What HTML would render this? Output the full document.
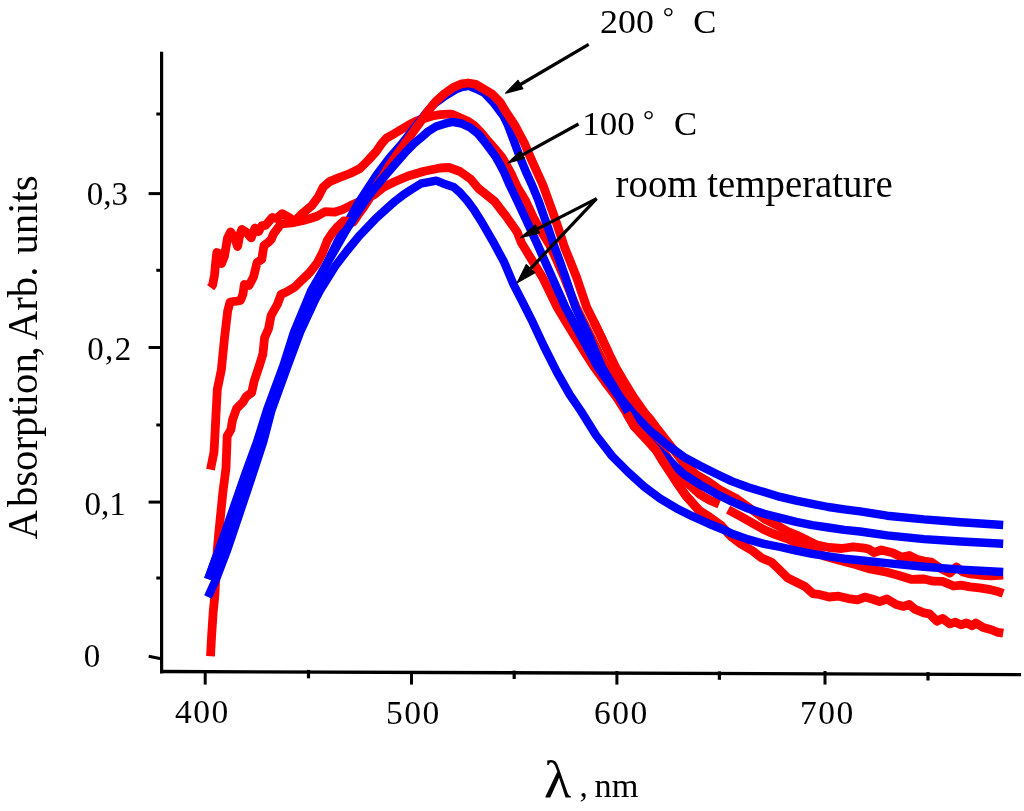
<!DOCTYPE html>
<html lang="en">
<head>
<meta charset="utf-8">
<title>Absorption spectra</title>
<style>
html,body{margin:0;padding:0;background:#fff;}
body{width:1024px;height:811px;overflow:hidden;}
svg{display:block;}
text{font-family:"Liberation Serif","DejaVu Serif",serif;fill:#000;}
</style>
</head>
<body>
<svg width="1024" height="811" viewBox="0 0 1024 811">
<rect x="0" y="0" width="1024" height="811" fill="#ffffff"/>
<g id="curves">
<polyline points="210.6,287.6 212.7,284.8 214.5,275.0 215.7,262.4 216.8,252.5 218.9,253.5 221.5,263.5 224.5,256.2 227.5,238.0 230.6,232.0 234.6,238.0 237.6,246.5 239.6,236.0 241.8,229.5 246.9,232.8 251.2,237.8 255.0,228.0 258.7,231.5 261.8,225.7 265.5,225.3 272.3,217.5 276.6,218.5 282.2,213.7 289.4,217.7 294.2,221.7 302.2,213.7 311.8,205.7 318.3,196.9 323.1,187.3 329.5,181.6 339.1,177.6 350.0,173.5 360.0,168.5 368.0,160.5 376.0,151.7 381.6,143.7 386.5,138.1 393.7,134.0 401.7,129.2 409.7,124.4 416.1,121.2 424.1,118.5 432.1,116.0 440.0,114.7 448.0,114.2 452.1,114.2 460.1,117.7 468.5,121.5 474.0,125.3 481.0,132.5 488.0,141.0 495.0,149.0 501.8,157.1 506.5,165.0 510.9,173.1 514.7,181.5 517.3,187.0 525.7,201.0 533.2,217.1 541.0,231.0 549.7,245.0 557.0,261.0 564.1,277.1 570.2,292.5 576.3,307.5 583.5,322.0 591.0,337.1 598.5,352.5 606.5,367.5 615.0,382.0 624.0,397.1 636.0,413.0 648.0,429.0 660.0,446.0 671.0,463.0 682.6,478.6 700.0,494.5 709.6,500.1 719.2,504.1" fill="none" stroke="#ff0000" stroke-width="8.8" stroke-linejoin="round" stroke-linecap="butt" />
<polyline points="728.1,509.7 740.1,516.2 752.9,523.4 764.1,529.8 775.4,534.6 786.6,538.6 797.0,543.2 810.0,549.5 824.2,556.0 840.2,560.6 856.3,564.7 868.5,568.6 887.0,572.3 898.1,575.2 911.0,579.3 924.0,579.0 933.2,581.2 942.5,581.4 953.6,586.0 961.0,585.1 970.2,586.9 979.5,587.9 990.6,589.7 998.0,591.6 1003.2,593.4" fill="none" stroke="#ff0000" stroke-width="8.8" stroke-linejoin="round" stroke-linecap="butt" />
<polyline points="210.5,469.7 214.0,452.0 214.9,436.0 215.7,420.0 217.3,389.4 221.3,370.2 224.5,338.1 227.7,310.8 230.1,302.0 236.5,301.2 240.5,300.5 243.0,294.0 244.3,284.5 249.0,285.5 253.5,277.0 255.6,268.7 257.1,262.4 261.8,259.3 262.9,252.0 264.0,245.6 268.1,242.5 271.3,239.4 273.4,234.1 276.5,229.9 280.6,224.5 286.2,223.3 294.2,222.5 302.2,220.8 310.2,218.5 317.0,216.3 325.0,211.7 334.3,212.2 342.4,209.6 350.6,205.6 362.0,200.5 373.7,195.0 383.4,187.2 394.0,182.0 408.1,176.0 424.1,171.2 440.0,168.0 449.0,167.5 460.0,171.5 470.5,179.0 478.5,188.5 494.5,201.2 505.7,215.7 517.0,231.7 521.5,243.0 525.8,250.0 534.0,263.5 542.4,277.1 550.0,292.5 557.3,307.5 566.0,322.0 575.3,337.1 584.8,352.5 594.5,367.5 605.0,382.0 616.5,397.1 626.5,413.0 634.0,426.0 640.0,432.5 648.0,441.0 656.0,450.0 662.4,460.5 669.7,471.5 676.1,481.5 685.8,495.5 698.6,510.0 709.6,517.0 720.8,525.0 730.5,536.0 740.8,544.0 752.1,550.5 761.7,558.0 771.3,562.0 779.3,569.7 787.3,577.7 795.4,581.7 805.0,586.5 813.0,593.7 819.4,594.5 829.0,597.0 838.6,596.2 848.3,598.6 857.4,599.9 864.8,597.1 872.2,599.0 879.6,601.7 887.0,599.0 896.2,604.5 903.6,606.4 909.2,604.5 914.7,609.1 924.0,612.8 929.5,613.8 936.9,621.2 942.5,618.4 949.9,623.9 955.4,622.1 961.0,624.9 966.5,623.0 972.1,625.8 975.8,623.0 983.2,627.6 990.6,629.5 998.0,632.3 1003.2,633.2" fill="none" stroke="#ff0000" stroke-width="8.8" stroke-linejoin="round" stroke-linecap="butt" />
<polyline points="594.0,322.0 601.3,337.1 608.5,352.5 615.8,367.5 624.3,382.0 633.5,397.1 645.5,414.0 650.8,420.0 656.0,427.2 662.4,435.2 667.3,441.6 673.7,449.7 684.9,464.5 696.1,474.5 708.1,481.5 720.8,490.5 737.0,499.0 753.0,510.5 764.5,519.0 776.1,524.8 787.3,531.2 797.0,535.2 806.6,540.0 816.2,544.7 829.0,547.5 841.8,548.5 853.1,546.8 864.3,548.1 868.5,549.0 874.0,552.7 881.4,550.0 892.5,552.7 901.8,557.3 909.2,555.5 916.6,559.2 924.0,561.0 931.4,562.0 940.0,568.0 949.9,573.0 956.4,567.0 963.0,572.0 970.2,574.0 979.5,575.0 990.6,575.8 1003.2,575.0" fill="none" stroke="#ff0000" stroke-width="8.8" stroke-linejoin="round" stroke-linecap="butt" />
<polyline points="208.1,579.1 210.7,572.1 216.6,556.0 222.6,540.0 248.0,475.0 259.5,442.0 269.0,410.0 312.5,290.0 325.5,266.0 334.5,248.0 343.0,230.7 358.0,203.6 369.4,186.1 376.6,175.0 389.4,158.1 400.6,145.3 410.3,133.2 419.0,122.0 426.5,112.5 434.5,103.5 443.5,97.0 455.3,89.6 461.7,87.1 468.9,85.9 476.1,88.8 484.1,92.7 493.0,102.0 503.3,115.6 507.9,125.0 513.9,141.0 519.9,157.1 526.5,173.1 532.0,185.0 538.6,201.0 544.2,217.1 549.2,231.0 554.0,245.5 559.7,261.0 565.4,277.1 570.5,292.5 575.5,307.5 582.3,322.0 589.5,337.1 595.8,352.5 602.1,367.5 610.8,382.0 620.0,397.1 627.0,406.0 634.7,415.0 649.0,430.0 656.0,435.5 666.6,444.5 684.2,457.2 700.0,465.7 716.0,473.7 732.1,481.4 748.1,487.3 764.1,492.1 780.2,496.9 796.2,500.6 812.2,503.8 828.3,507.0 844.3,509.3 860.0,511.3 887.0,515.7 924.0,519.4 961.0,522.2 1003.2,525.0" fill="none" stroke="#0000ff" stroke-width="8.4" stroke-linejoin="round" stroke-linecap="butt" />
<polyline points="210.5,656.2 211.6,636.0 213.2,612.0 214.8,596.0 217.3,550.0 218.9,532.0 220.5,516.0 222.9,492.0 226.0,468.0 227.2,436.0 230.9,429.6 232.5,420.0 236.5,408.6 242.9,402.2 246.1,396.6 251.7,392.6 254.1,381.4 258.9,367.0 262.9,354.1 264.5,338.1 268.6,328.5 271.0,315.7 277.4,304.4 281.0,294.5 288.1,291.1 294.9,287.0 301.7,280.2 309.5,272.8 317.0,263.3 322.7,252.4 327.5,240.2 332.0,233.4 337.0,227.3 343.8,221.0 349.0,221.5 353.3,222.0 358.0,215.0 363.4,207.6 369.0,199.0 377.0,185.0 383.8,175.0 388.9,166.1 400.1,150.1 411.7,134.0 420.0,122.5 428.0,111.0 436.0,101.2 444.0,94.0 453.7,87.2 461.7,83.8 468.1,83.0 476.1,84.4 484.1,89.2 492.1,94.0 500.0,102.0 506.0,112.0 515.0,125.5 524.3,143.0 530.6,157.8 537.8,173.8 542.9,185.0 548.7,201.0 554.5,217.1 559.6,232.0 564.6,247.5 570.5,262.0 576.5,277.1 581.7,292.5 586.8,307.5 594.0,322.0 601.3,337.1 608.5,352.5" fill="none" stroke="#ff0000" stroke-width="8.8" stroke-linejoin="round" stroke-linecap="butt" />
<polyline points="208.1,579.1 210.7,572.1 216.6,556.0 222.4,540.0 245.0,475.0 257.0,442.0 267.0,410.0 283.6,365.0 294.0,332.0 307.3,300.0 311.5,290.0 325.5,266.0 336.0,248.0 345.8,230.7 354.5,217.0 363.2,203.6 374.0,189.0 385.7,175.0 396.1,162.9 404.9,152.9 413.7,143.8 420.9,137.8 428.0,131.5 436.0,126.5 444.0,123.9 452.1,121.9 461.5,123.5 470.0,127.5 478.0,133.8 484.0,141.0 490.0,149.0 495.9,157.1 500.3,165.0 504.5,173.1 509.6,185.0 517.3,201.0 524.8,217.1 531.3,231.0 537.7,245.0 544.8,261.0 552.0,277.1 558.8,292.5 565.5,307.5 573.3,322.0 581.5,337.1 589.8,352.5 598.0,367.5 608.5,382.0 619.3,397.1 628.0,412.0 635.5,426.0 643.0,435.0 654.0,446.0 666.5,457.5 674.5,465.5 684.2,474.5 700.0,484.6 716.0,493.7 732.1,501.7 748.1,508.6 764.1,513.7 780.2,517.9 796.2,521.9 812.2,525.1 828.3,527.5 844.3,529.9 860.0,531.5 887.0,535.4 924.0,539.1 961.0,541.5 1003.2,543.7" fill="none" stroke="#0000ff" stroke-width="8.4" stroke-linejoin="round" stroke-linecap="butt" />
<polyline points="626.5,413.0 634.0,426.0 640.0,432.5 648.0,441.0 656.0,450.0 662.4,460.5 669.7,471.5 676.1,481.5 685.8,495.5 698.6,510.0" fill="none" stroke="#ff0000" stroke-width="8.8" stroke-linejoin="round" stroke-linecap="butt" />
<polyline points="208.0,597.0 215.7,580.0 227.2,550.0 230.6,540.0 252.4,475.0 263.2,442.0 271.6,410.0 287.9,365.0 300.2,332.0 315.0,300.0 320.3,290.0 335.3,266.0 346.8,251.0 359.0,236.1 376.2,218.2 392.2,203.7 395.0,201.3 403.0,195.1 411.0,189.7 420.7,183.7 436.3,180.6 443.1,183.4 453.5,186.9 459.1,191.7 467.1,200.5 473.6,209.3 481.7,222.0 492.9,241.3 504.1,262.1 513.6,284.6 522.6,302.2 532.8,322.4 544.0,346.5 556.9,372.1 569.7,394.6 580.9,411.0 596.0,435.3 612.1,456.1 628.1,472.1 644.1,486.6 660.2,498.6 676.2,508.2 692.2,516.2 708.3,523.5 724.3,530.0 732.1,533.8 748.1,539.4 764.1,543.9 780.2,547.0 796.2,550.7 812.2,553.9 828.3,556.3 844.3,558.7 860.0,560.3 887.0,563.1 924.0,566.8 961.0,569.6 1003.2,572.0" fill="none" stroke="#0000ff" stroke-width="8.4" stroke-linejoin="round" stroke-linecap="butt" />
</g>
<g id="axes">
<rect x="160" y="51.7" width="3.2" height="621.7" fill="#000"/>
<polygon points="160,669.8 1021,672.9 1021,676.2 160,673.2" fill="#000"/>
<rect x="148.6" y="192.1" width="12" height="3" fill="#000"/>
<rect x="148.6" y="346.0" width="12" height="3" fill="#000"/>
<rect x="148.6" y="500.6" width="12" height="3" fill="#000"/>
<line x1="148.7" y1="656.3" x2="161" y2="658.8" stroke="#000" stroke-width="3"/>
<rect x="156.3" y="112.5" width="4" height="3" fill="#000"/>
<rect x="156.3" y="268.8" width="4" height="3" fill="#000"/>
<rect x="156.3" y="423.5" width="4" height="3" fill="#000"/>
<rect x="156.3" y="576.5" width="4" height="3" fill="#000"/>
<rect x="203.7" y="671" width="3" height="13.6" fill="#000"/>
<rect x="410.0" y="671" width="3" height="13.6" fill="#000"/>
<rect x="615.4" y="671" width="3" height="13.6" fill="#000"/>
<rect x="823.5" y="671" width="3" height="13.6" fill="#000"/>
<rect x="306.9" y="669.9" width="3.2" height="8.4" fill="#000"/>
<rect x="512.6" y="670.6" width="3.2" height="8.4" fill="#000"/>
<rect x="717.8" y="671.4" width="3.2" height="8.4" fill="#000"/>
<rect x="926.4" y="672.1" width="3.2" height="8.4" fill="#000"/>
</g>
<g id="arrows">
<line x1="588.7" y1="44.4" x2="519.6" y2="85.0" stroke="#000" stroke-width="3.2" stroke-linecap="butt"/><polygon points="505.6,93.2 518.0,80.3 522.9,88.7" fill="#000" stroke="#000" stroke-width="1.2" stroke-linejoin="round"/>
<line x1="578.5" y1="124.0" x2="521.6" y2="155.4" stroke="#000" stroke-width="3.2" stroke-linecap="butt"/><polygon points="508.0,162.9 520.5,151.3 524.4,158.5" fill="#000" stroke="#000" stroke-width="1.2" stroke-linejoin="round"/>
<line x1="596.6" y1="198.6" x2="536.6" y2="229.4" stroke="#000" stroke-width="3.2" stroke-linecap="butt"/><polygon points="520.6,237.6 535.5,225.0 539.5,232.8" fill="#000" stroke="#000" stroke-width="1.2" stroke-linejoin="round"/>
<line x1="596.6" y1="198.6" x2="529.9" y2="269.3" stroke="#000" stroke-width="3.2" stroke-linecap="butt"/><polygon points="517.2,282.8 526.3,264.6 534.9,272.7" fill="#000" stroke="#000" stroke-width="1.2" stroke-linejoin="round"/>
</g>
<g id="labels">
<text id="ytitle" transform="translate(37.1 539.6) rotate(-90) scale(0.947 1)" font-size="43" dx="0 3.3 0 0 0 0 0 0 0 0 -3.3 -2 0 0 0 0 2">Absorption, Arb. units</text>
<text id="y03" x="86.7" y="204.6" font-size="33">0,3</text>
<text id="y02" x="87.3" y="359.6" font-size="33" letter-spacing="1.3">0,2</text>
<text id="y01" x="84.6" y="514.8" font-size="33">0,1</text>
<text id="y00" x="83.8" y="667" font-size="33">0</text>
<text id="x400" x="175" y="723.3" font-size="33.5" letter-spacing="1.5">400</text>
<text id="x500" x="386" y="723.5" font-size="33.5" letter-spacing="1.5">500</text>
<text id="x600" x="594" y="723.5" font-size="33.5" letter-spacing="1.5">600</text>
<text id="x700" x="800" y="723.5" font-size="33.5" letter-spacing="1.5">700</text>
<text id="lam" transform="translate(544 796.5) scale(1.08 1)" font-size="52">λ</text>
<text id="comma" x="579.5" y="796.5" font-size="33">,</text>
<text id="nm" transform="translate(594.5 796.5) scale(1.04 1)" font-size="33">nm</text>
<text id="t200" transform="translate(600 33) scale(1.09 1)" font-size="33">200</text>
<text id="d200" x="662.7" y="26.3" font-size="28">°</text>
<text id="c200" transform="translate(693.2 33) scale(1.05 1)" font-size="33">C</text>
<text id="t100" transform="translate(582.3 134.6) scale(1.06 1)" font-size="33">100</text>
<text id="d100" x="643" y="128.5" font-size="28">°</text>
<text id="c100" transform="translate(674 134.6) scale(1.05 1)" font-size="33">C</text>
<text id="room" transform="translate(615.6 196.6) scale(0.996 1)" font-size="39">room temperature</text>

</g>
</svg>
</body>
</html>
